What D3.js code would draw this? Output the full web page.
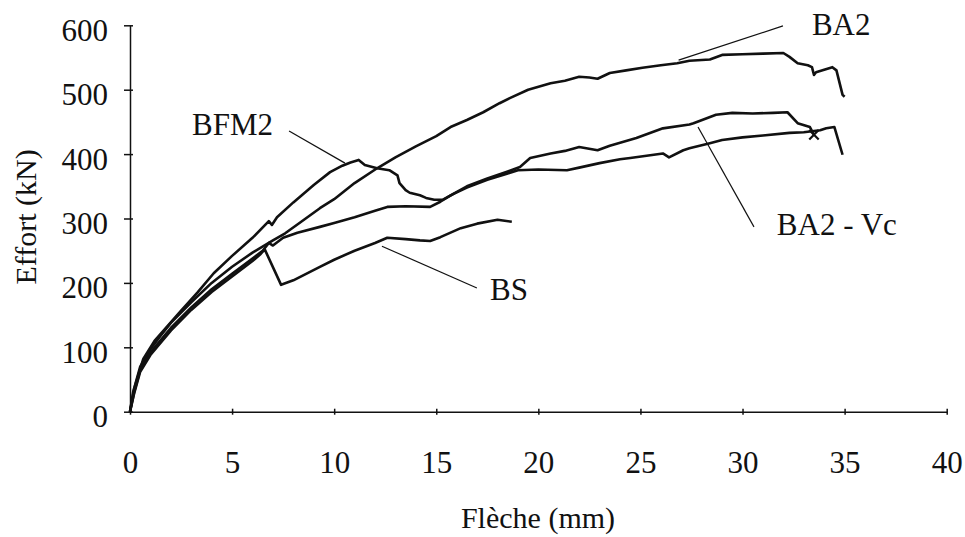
<!DOCTYPE html>
<html>
<head>
<meta charset="utf-8">
<script src="https://cdn.jsdelivr.net/npm/d3@7"></script>
<style>
  body { margin: 0; background: #fff; }
  svg text { font-family: 'Liberation Serif', 'Times New Roman', serif; fill: #111; }
</style>
</head>
<body>
<svg id="chart"></svg>
<script>
// axis ticks
const xTicks = [0, 5, 10, 15, 20, 25, 30, 35, 40]
const yTicks = [0, 100, 200, 300, 400, 500, 600]

// BA2
const ba2X = [0, 0.15, 0.5, 1, 1.5, 2, 3, 4, 5, 6, 7, 7.6, 8.3, 9.3, 10, 11, 12.1, 13, 14, 15, 15.7, 16.5, 17.3, 18.1, 18.6, 19.5, 20.6, 21.3, 22.0, 22.5, 22.9, 23.5, 24.3, 25.1, 26, 26.8, 27.4, 28.4, 29.0, 30, 31, 32.0, 32.3, 32.7, 33.2, 33.4, 33.5, 33.6, 34.0, 34.4, 34.6, 34.9, 35.0]
const ba2Y = [0, 30, 70, 97, 118, 138, 170, 200, 225, 247, 266, 277, 293, 316, 330, 355, 378, 395, 412, 428, 442, 453, 465, 479, 487, 500, 510, 514, 520, 519, 517, 526, 530, 534, 538, 541, 545, 547, 554, 555, 556, 557, 551, 541, 538, 535, 523, 527, 531, 535, 530, 492, 489]

// BFM2
const bfm2X = [0, 0.2, 0.65, 1.2, 2.45, 3.3, 4.1, 5, 6, 6.8, 6.95, 7.2, 8, 9, 9.8, 10.4, 10.8, 11.2, 11.5, 12.1, 12.7, 13.1, 13.2, 13.5, 13.7, 14.2, 14.5, 14.9, 15.3, 15.9, 16.5, 17.5, 18.5, 19.0, 20, 21.4, 22, 23.0, 24.0, 24.5, 26.1, 26.4, 27.1, 27.4, 28.4, 29.0, 30, 31, 32.3, 33.0, 33.8, 34.1, 34.5, 34.9]
const bfm2Y = [0, 35, 82, 110, 155, 185, 215, 242, 270, 296, 290, 302, 325, 352, 372, 382, 387, 391, 383, 378, 375, 367, 355, 344, 340, 336, 332, 329, 329, 339, 348, 360, 370, 375, 376, 375, 379, 386, 392, 394, 401, 395, 406, 409, 417, 422, 426, 429, 433, 434, 437, 440, 442, 399]

// BA2 - Vc
const ba2vcX = [0, 0.2, 0.5, 1, 2, 3, 4, 5, 6, 6.5, 6.8, 7.0, 7.5, 8.2, 9.3, 10, 11, 12, 12.6, 13.5, 14.7, 15.2, 15.7, 16.5, 17.5, 18.5, 19.1, 19.6, 20.6, 21.3, 22.0, 22.9, 23.5, 24.8, 26.1, 27.4, 27.6, 28.7, 29.5, 30.5, 31.5, 32.2, 32.7, 33.3, 33.5]
const ba2vcY = [0, 30, 65, 92, 130, 162, 190, 214, 238, 250, 262, 258, 270, 278, 287, 293, 302, 312, 318, 319, 318, 326, 336, 350, 362, 373, 380, 394, 401, 405, 411, 406, 413, 425, 440, 446, 448, 461, 464, 463, 464, 465, 448, 442, 430]

// BS
const bsX = [0, 0.2, 0.5, 1, 2, 3, 4, 5, 6, 6.4, 6.6, 7.4, 8, 9.3, 10, 11, 12, 12.6, 13.5, 14.2, 14.7, 15.2, 16.2, 17, 18, 18.7]
const bsY = [0, 28, 62, 88, 126, 158, 186, 210, 234, 245, 252, 197, 204, 225, 236, 250, 262, 270, 268, 266, 265, 271, 285, 292, 298, 295]

// curve labels: text, label anchor, leader line (data units)
const labelNames = ['BA2', 'BA2 - Vc', 'BFM2', 'BS']
const labelAt = [[33.4, 585], [31.68, 274], [3.04, 430], [17.63, 173]]
const leaderFrom = [[31.98, 599], [30.56, 287], [7.79, 436], [12.34, 257]]
const leaderTo = [[26.87, 546], [27.82, 442], [10.53, 386], [16.99, 192]]

const width = 965, height = 537

const svg = d3.select('#chart').attr('width', width).attr('height', height)

const x = d3.scaleLinear().domain([0, 40]).range([130, 946.7])
const y = d3.scaleLinear().domain([0, 600]).range([411.7, 25.3])

// axes
const gx = svg.append('g')
  .attr('transform', `translate(0,${y(0)})`)
  .call(d3.axisBottom(x).tickValues(xTicks).tickSize(3).tickSizeOuter(0))
gx.selectAll('.tick line').attr('y1', -3)
gx.selectAll('.tick text').attr('y', 61).attr('dy', null)

const gy = svg.append('g')
  .attr('transform', `translate(${x(0)},0)`)
  .call(d3.axisLeft(y).tickValues(yTicks).tickSize(6).tickSizeOuter(0))
gy.selectAll('.tick line').attr('x1', 3)
gy.selectAll('.tick text').attr('x', -22).attr('dy', null).attr('y', 15)

svg.selectAll('.domain, .tick line').attr('stroke', '#111').attr('stroke-width', 1.5)
svg.selectAll('.tick text').attr('font-size', 31).attr('font-family', "'Liberation Serif', 'Times New Roman', serif").attr('fill', '#111')

svg.append('text')
  .attr('transform', 'translate(36,217) rotate(-90)')
  .attr('text-anchor', 'middle')
  .attr('font-size', 30)
  .text('Effort (kN)')

svg.append('text')
  .attr('x', 538).attr('y', 528)
  .attr('text-anchor', 'middle')
  .attr('font-size', 30)
  .text('Flèche (mm)')

// curves
const series = [
  d3.zip(ba2X, ba2Y),
  d3.zip(bfm2X, bfm2Y),
  d3.zip(ba2vcX, ba2vcY),
  d3.zip(bsX, bsY)
]

const line = d3.line().x(d => x(d[0])).y(d => y(d[1]))

svg.append('g').selectAll('path.curve')
  .data(series)
  .enter().append('path')
  .attr('class', 'curve')
  .attr('d', line)
  .attr('fill', 'none')
  .attr('stroke', '#111')
  .attr('stroke-width', 2.6)
  .attr('stroke-linejoin', 'round')

// end marker of BA2 - Vc
const vcEnd = [ba2vcX[ba2vcX.length - 1], ba2vcY[ba2vcY.length - 1]]
svg.append('path')
  .attr('d', d3.symbol(d3.symbolTimes || d3.symbolCross).size(60)())
  .attr('transform', `translate(${x(vcEnd[0])},${y(vcEnd[1])})`)
  .attr('fill', 'none')
  .attr('stroke', '#111')
  .attr('stroke-width', 2.2)

// labels and leader lines
const lab = svg.append('g')
lab.selectAll('line')
  .data(labelNames)
  .enter().append('line')
  .attr('x1', (d, i) => x(leaderFrom[i][0]))
  .attr('y1', (d, i) => y(leaderFrom[i][1]))
  .attr('x2', (d, i) => x(leaderTo[i][0]))
  .attr('y2', (d, i) => y(leaderTo[i][1]))
  .attr('stroke', '#111')
  .attr('stroke-width', 1.2)

lab.selectAll('text')
  .data(labelNames)
  .enter().append('text')
  .attr('x', (d, i) => x(labelAt[i][0]))
  .attr('y', (d, i) => y(labelAt[i][1]))
  .attr('font-size', 31)
  .text(d => d)
</script>
</body>
</html>
